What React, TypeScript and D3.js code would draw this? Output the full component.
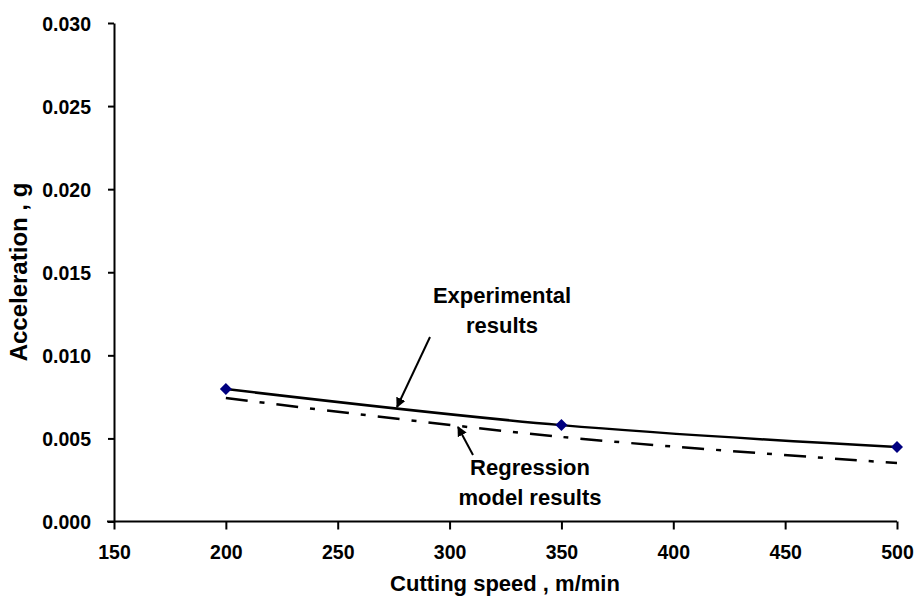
import { useEffect, useRef } from 'react'
import * as d3 from 'd3'

// cutting speed (m/min)
const speeds = [200, 350, 500]
// acceleration (g)
const experimental = [0.00797, 0.0058, 0.00448]
const regression = [0.00743, 0.00509, 0.00352]

const xTicks = [150, 200, 250, 300, 350, 400, 450, 500]
const yTicks = [0, 0.005, 0.01, 0.015, 0.02, 0.025, 0.03]

const W = 918
const H = 601
const FONT = 'Liberation Sans, Arial, sans-serif'

export default function App() {
  const svgRef = useRef<SVGSVGElement | null>(null)

  useEffect(() => {
    const svg = d3.select(svgRef.current)
    svg.selectAll('*').remove()

    const x = d3.scaleLinear().domain([150, 500]).range([114, 897])
    const y = d3.scaleLinear().domain([0, 0.03]).range([521.5, 23])

    svg.append('rect').attr('width', W).attr('height', H).attr('fill', '#ffffff')

    // arrow head
    svg.append('defs').append('marker')
      .attr('id', 'arrow')
      .attr('viewBox', '0 0 10 10')
      .attr('refX', 9)
      .attr('refY', 5)
      .attr('markerWidth', 5)
      .attr('markerHeight', 5)
      .attr('orient', 'auto')
      .append('path')
      .attr('d', 'M0,0 L10,5 L0,10 z')
      .attr('fill', '#000')

    // ── Axes ──────────────────────────────────────────────
    const xAxis = svg.append('g').attr('transform', `translate(0,${y(0)})`)
      .call(d3.axisBottom(x).tickValues(xTicks).tickSize(8).tickPadding(16).tickSizeOuter(0))
    const yAxis = svg.append('g').attr('transform', `translate(${x(150)},0)`)
      .call(d3.axisLeft(y).tickValues(yTicks).tickSize(6).tickPadding(17).tickSizeOuter(0)
        .tickFormat(d3.format('.3f')))

    ;[xAxis, yAxis].forEach(a => {
      a.select('.domain').attr('stroke', '#000').attr('stroke-width', 2)
      a.selectAll('.tick line').attr('stroke', '#000').attr('stroke-width', 2)
      a.selectAll('.tick text')
        .attr('fill', '#000')
        .style('font-family', FONT)
        .style('font-size', '19.5px')
        .style('font-weight', 'bold')
    })
    yAxis.selectAll('.tick text').attr('dy', '0.36em')

    // extend domain lines to meet at the corner
    xAxis.select('.domain').attr('d', `M${x(150) - 7},0H${x(500)}`)

    // ── Axis titles ───────────────────────────────────────
    svg.append('text')
      .attr('x', 505)
      .attr('y', 591)
      .attr('text-anchor', 'middle')
      .style('font-family', FONT)
      .style('font-size', '22px')
      .style('font-weight', 'bold')
      .text('Cutting speed , m/min')

    svg.append('text')
      .attr('transform', 'translate(27,272) rotate(-90)')
      .attr('text-anchor', 'middle')
      .style('font-family', FONT)
      .style('font-size', '24px')
      .style('font-weight', 'bold')
      .text('Acceleration , g')

    // ── Lines ─────────────────────────────────────────────
    const line = d3.line<number>()
      .x((_, i) => x(speeds[i]))
      .y(d => y(d))
      .curve(d3.curveCatmullRom)

    svg.append('path')
      .attr('d', line(regression))
      .attr('fill', 'none')
      .attr('stroke', '#000')
      .attr('stroke-width', 2.5)
      .attr('stroke-dasharray', '22 12 5 12')

    svg.append('path')
      .attr('d', line(experimental))
      .attr('fill', 'none')
      .attr('stroke', '#000')
      .attr('stroke-width', 2.5)

    svg.selectAll('path.pt')
      .data(experimental)
      .join('path')
      .attr('class', 'pt')
      .attr('transform', (d, i) => `translate(${x(speeds[i])},${y(d)})`)
      .attr('d', 'M0,-6L6,0L0,6L-6,0Z')
      .attr('fill', '#000080')

    // ── Annotations ───────────────────────────────────────
    const note = (lines: string[], cx: number, y0: number) => {
      lines.forEach((t, i) => {
        svg.append('text')
          .attr('x', cx)
          .attr('y', y0 + i * 29.5)
          .attr('text-anchor', 'middle')
          .style('font-family', FONT)
          .style('font-size', '22px')
          .style('font-weight', 'bold')
          .text(t)
      })
    }
    note(['Experimental', 'results'], 502, 303)
    note(['Regression', 'model results'], 530, 475)

    svg.append('line')
      .attr('x1', 430).attr('y1', 337).attr('x2', 397).attr('y2', 407)
      .attr('stroke', '#000').attr('stroke-width', 2)
      .attr('marker-end', 'url(#arrow)')
    svg.append('line')
      .attr('x1', 473).attr('y1', 455).attr('x2', 458).attr('y2', 427)
      .attr('stroke', '#000').attr('stroke-width', 2)
      .attr('marker-end', 'url(#arrow)')
  }, [])

  return (
    <svg ref={svgRef} width={W} height={H}
      style={{ position: 'absolute', left: 0, top: 0, display: 'block' }} />
  )
}
